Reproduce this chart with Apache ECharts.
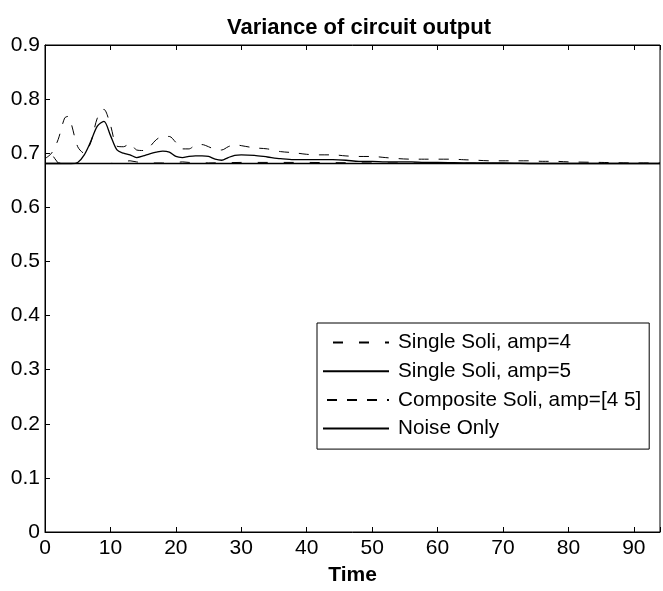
<!DOCTYPE html>
<html>
<head>
<meta charset="utf-8">
<script src="https://cdn.jsdelivr.net/npm/echarts@6/dist/echarts.min.js"></script>
<style>
html,body{margin:0;padding:0;background:#fff;}
#chart{width:663px;height:591px;}
</style>
</head>
<body>
<div id="chart"></div>
<script>
// ---- data ----
const titleText = 'Variance of circuit output';
const xName = 'Time';
const seriesNames = ['Single Soli, amp=4', 'Single Soli, amp=5', 'Composite Soli, amp=[4 5]', 'Noise Only'];

const tSingle4 = [0, 1, 1.5, 2, 5, 10, 11, 12, 13, 14, 15, 18, 20, 21, 22, 25, 30, 35, 40, 50, 60, 70, 80, 94];
const vSingle4 = [0.700, 0.699, 0.690, 0.682, 0.681, 0.681, 0.682, 0.685, 0.686, 0.684, 0.682, 0.682, 0.683, 0.684, 0.683, 0.682, 0.683, 0.683, 0.683, 0.682, 0.682, 0.681, 0.681, 0.681];

const tSingle5 = [0, 2, 4, 5, 6, 7, 8, 9, 10, 11, 12, 13, 14, 15, 16, 17, 18, 19, 20, 21, 22, 23, 24, 25, 26, 27, 28, 29, 30, 32, 34, 36, 38, 40, 42, 44, 46, 48, 50, 52, 54, 56, 58, 60, 65, 70, 75, 80, 85, 90, 94];
const vSingle5 = [0.681, 0.681, 0.681, 0.683, 0.697, 0.722, 0.750, 0.759, 0.733, 0.706, 0.700, 0.697, 0.692, 0.695, 0.699, 0.702, 0.704, 0.702, 0.694, 0.692, 0.694, 0.695, 0.695, 0.694, 0.689, 0.687, 0.692, 0.696, 0.697, 0.696, 0.693, 0.690, 0.688, 0.688, 0.688, 0.688, 0.687, 0.685, 0.685, 0.684, 0.684, 0.684, 0.683, 0.683, 0.682, 0.682, 0.681, 0.681, 0.681, 0.681, 0.681];

const tComposite = [0, 1, 2, 3, 3.5, 4, 5, 6, 7, 8, 9, 10, 11, 12, 13, 14, 15, 16, 17, 18, 19, 20, 21, 22, 23, 24, 25, 26, 27, 28, 29, 30, 32, 34, 36, 38, 40, 42, 44, 46, 48, 50, 52, 54, 56, 58, 60, 62, 64, 66, 68, 70, 72, 74, 76, 78, 80, 85, 90, 94];
const vComposite = [0.690, 0.700, 0.725, 0.765, 0.768, 0.755, 0.712, 0.700, 0.720, 0.765, 0.781, 0.752, 0.713, 0.712, 0.718, 0.706, 0.705, 0.712, 0.725, 0.731, 0.731, 0.720, 0.708, 0.708, 0.715, 0.716, 0.712, 0.707, 0.706, 0.712, 0.716, 0.714, 0.710, 0.708, 0.703, 0.701, 0.698, 0.697, 0.697, 0.695, 0.694, 0.694, 0.692, 0.690, 0.689, 0.689, 0.689, 0.689, 0.688, 0.687, 0.686, 0.686, 0.686, 0.686, 0.685, 0.685, 0.684, 0.683, 0.682, 0.682];

const tNoise = [0, 10, 20, 30, 40, 50, 60, 70, 80, 90, 94];
const vNoise = [0.681, 0.681, 0.681, 0.681, 0.681, 0.681, 0.681, 0.681, 0.681, 0.681, 0.681];

const xTicks = [0, 10, 20, 30, 40, 50, 60, 70, 80, 90];
const yTicks = [0, 0.1, 0.2, 0.3, 0.4, 0.5, 0.6, 0.7, 0.8, 0.9];

function pairs(t, v) { return t.map((x, i) => [x, v[i]]); }

const font = 'Liberation Sans, Arial, Helvetica, sans-serif';
const chart = echarts.init(document.getElementById('chart'), null, {renderer: 'canvas'});

const axisCommon = {
  type: 'value',
  axisLine: {show: true, lineStyle: {color: '#000', width: 1}},
  axisTick: {show: true, inside: true, length: 5, lineStyle: {color: '#000'}},
  splitLine: {show: false}
};

chart.setOption({
  animation: false,
  backgroundColor: '#fff',
  title: {
    text: titleText,
    left: 354, top: 12, textAlign: 'center',
    textStyle: {fontFamily: font, fontWeight: 'bold', fontSize: 22, color: '#000'}
  },
  grid: {left: 45, right: -1, top: 45, bottom: 55, show: true, borderColor: '#000', borderWidth: 1},
  xAxis: [
    Object.assign({}, axisCommon, {
      position: 'bottom', min: 0, max: 94, interval: 10,
      axisLabel: {fontFamily: font, fontSize: 21, color: '#000', margin: 6,
        formatter: v => xTicks.includes(v) ? String(v) : ''},
      name: xName, nameLocation: 'middle', nameGap: 33,
      nameTextStyle: {fontFamily: font, fontWeight: 'bold', fontSize: 21, color: '#000'}
    }),
    Object.assign({}, axisCommon, {
      position: 'top', min: 0, max: 94, interval: 10, axisLabel: {show: false}
    })
  ],
  yAxis: [
    Object.assign({}, axisCommon, {
      position: 'left', min: 0, max: 0.9, interval: 0.1,
      axisLabel: {fontFamily: font, fontSize: 21, color: '#000', margin: 5,
        formatter: v => { const r = Math.round(v * 10) / 10; return yTicks.includes(r) ? String(r) : ''; }}
    })
  ],
  legend: {
    orient: 'vertical',
    left: 317, top: 323,
    itemWidth: 66, itemHeight: 12, itemGap: 7.7,
    padding: [9, 8, 10, 5],
    borderColor: '#000', borderWidth: 1, borderRadius: 0,
    backgroundColor: '#fff',
    itemStyle: {opacity: 0},
    textStyle: {fontFamily: font, fontSize: 20.7, color: '#000', lineHeight: 20, padding: [0, 0, 0, 4]},
    data: seriesNames
  },
  series: [
    {name: seriesNames[0], type: 'line', symbol: 'none', data: pairs(tSingle4, vSingle4),
      lineStyle: {color: '#000', width: 1, type: [10, 16], dashOffset: 16}, itemStyle: {color: '#000'}},
    {name: seriesNames[1], type: 'line', symbol: 'none', data: pairs(tSingle5, vSingle5), smooth: 0.3,
      lineStyle: {color: '#000', width: 1.3, type: 'solid'}, itemStyle: {color: '#000'}},
    {name: seriesNames[2], type: 'line', symbol: 'none', data: pairs(tComposite, vComposite), smooth: 0.3,
      lineStyle: {color: '#000', width: 1, type: [10, 10]}, itemStyle: {color: '#000'}},
    {name: seriesNames[3], type: 'line', symbol: 'none', data: pairs(tNoise, vNoise),
      lineStyle: {color: '#000', width: 1.3, type: 'solid'}, itemStyle: {color: '#000'}}
  ]
});
</script>
</body>
</html>
